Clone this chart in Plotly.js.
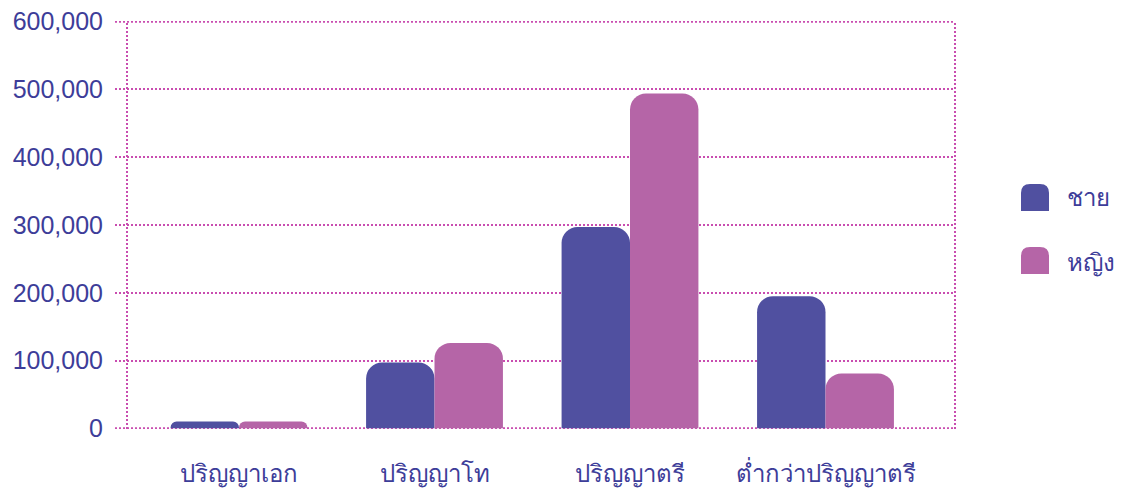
<!DOCTYPE html>
<html><head><meta charset="utf-8">
<script src="https://cdn.plot.ly/plotly-3.0.1.min.js"></script>
<style>html,body{margin:0;padding:0;background:#fff}#chart{width:1126px;height:491px}</style>
</head><body><div id="chart"></div>
<script>
const categories = ["ปริญญาเอก", "ปริญญาโท", "ปริญญาตรี", "ต่ำกว่าปริญญาตรี"];
const seriesNames = ["ชาย", "หญิง"];
const maleValues = [10000, 97000, 297000, 195000];
const femaleValues = [10000, 126000, 494000, 81000];
const yTickVals = [0, 100000, 200000, 300000, 400000, 500000, 600000];
const yTickText = ["0", "100,000", "200,000", "300,000", "400,000", "500,000", "600,000"];
const colors = ["#5050a0", "#b565a7"];

const textColor = "#3d3d99";
const gridColor = "#c94db0";
const font = "Liberation Sans, Noto Sans, sans-serif";

const traces = [
  {type: "bar", name: seriesNames[0], x: categories, y: maleValues, marker: {color: colors[0]}, showlegend: false},
  {type: "bar", name: seriesNames[1], x: categories, y: femaleValues, marker: {color: colors[1]}, showlegend: false}
];

const W = 1126, H = 491, L = 115, R = 171, T = 21, B = 62;
const pw = W - L - R, ph = H - T - B;
function px(x) { return (x - L) / pw; }
function py(y) { return (H - B - y) / ph; }

function roundedTop(x0, y0, x1, y1, r, color) {
  const p = [
    `M ${px(x0)} ${py(y1)}`,
    `L ${px(x0)} ${py(y0 + r)}`,
    `Q ${px(x0)} ${py(y0)} ${px(x0 + r)} ${py(y0)}`,
    `L ${px(x1 - r)} ${py(y0)}`,
    `Q ${px(x1)} ${py(y0)} ${px(x1)} ${py(y0 + r)}`,
    `L ${px(x1)} ${py(y1)} Z`
  ].join(" ");
  return {type: "path", xref: "paper", yref: "paper", path: p, fillcolor: color, line: {width: 0}};
}

const dotDash = "2px,2px";
const edgeGrid = [yTickVals[0], yTickVals[yTickVals.length - 1]].map(v => ({
  type: "line", xref: "paper", yref: "y", x0: 0, x1: 1, y0: v, y1: v,
  line: {color: gridColor, width: 2, dash: dotDash}, layer: "below"
}));
const shapes = [
  ...edgeGrid,
  {type: "line", xref: "paper", yref: "paper", x0: px(127), x1: px(127), y0: 0, y1: 1,
   line: {color: gridColor, width: 2, dash: dotDash}, layer: "below"},
  {type: "line", xref: "paper", yref: "paper", x0: px(955), x1: px(955), y0: 0, y1: 1,
   line: {color: gridColor, width: 2, dash: dotDash}, layer: "below"},
  roundedTop(1021, 184, 1049, 211, 9, colors[0]),
  roundedTop(1021, 247, 1049, 274, 9, colors[1])
];

const annotations = [
  {xref: "paper", yref: "paper", x: px(1065), y: py(197), xanchor: "left", yanchor: "middle",
   text: seriesNames[0], showarrow: false, font: {size: 24, color: textColor, family: font}},
  {xref: "paper", yref: "paper", x: px(1065), y: py(263), xanchor: "left", yanchor: "middle",
   text: seriesNames[1], showarrow: false, font: {size: 24, color: textColor, family: font}}
];

const catSpacing = 195.5;
const firstCenter = 239;
const xStart = -(firstCenter - L) / catSpacing;
const xEnd = xStart + pw / catSpacing;

const layout = {
  width: W, height: H,
  margin: {l: L, r: R, t: T, b: B, pad: 0},
  paper_bgcolor: "#ffffff", plot_bgcolor: "#ffffff",
  barmode: "group", bargap: 0.3, bargroupgap: 0, barcornerradius: 16,
  showlegend: false,
  font: {family: font, color: textColor, size: 24},
  xaxis: {type: "category", range: [xStart, xEnd], showgrid: false, zeroline: false, showline: false,
    ticks: "", tickfont: {size: 24, color: textColor, family: font}, ticklabelstandoff: 28},
  yaxis: {range: [-1000, 601000], tickvals: yTickVals, ticktext: yTickText, showgrid: true,
    gridcolor: gridColor, griddash: dotDash, gridwidth: 2, zeroline: false, showline: false,
    ticks: "", tickfont: {size: 25, color: textColor, family: font}, ticklabelstandoff: 11},
  shapes: shapes,
  annotations: annotations
};

Plotly.newPlot("chart", traces, layout, {displayModeBar: false, staticPlot: true});
</script>
</body></html>
